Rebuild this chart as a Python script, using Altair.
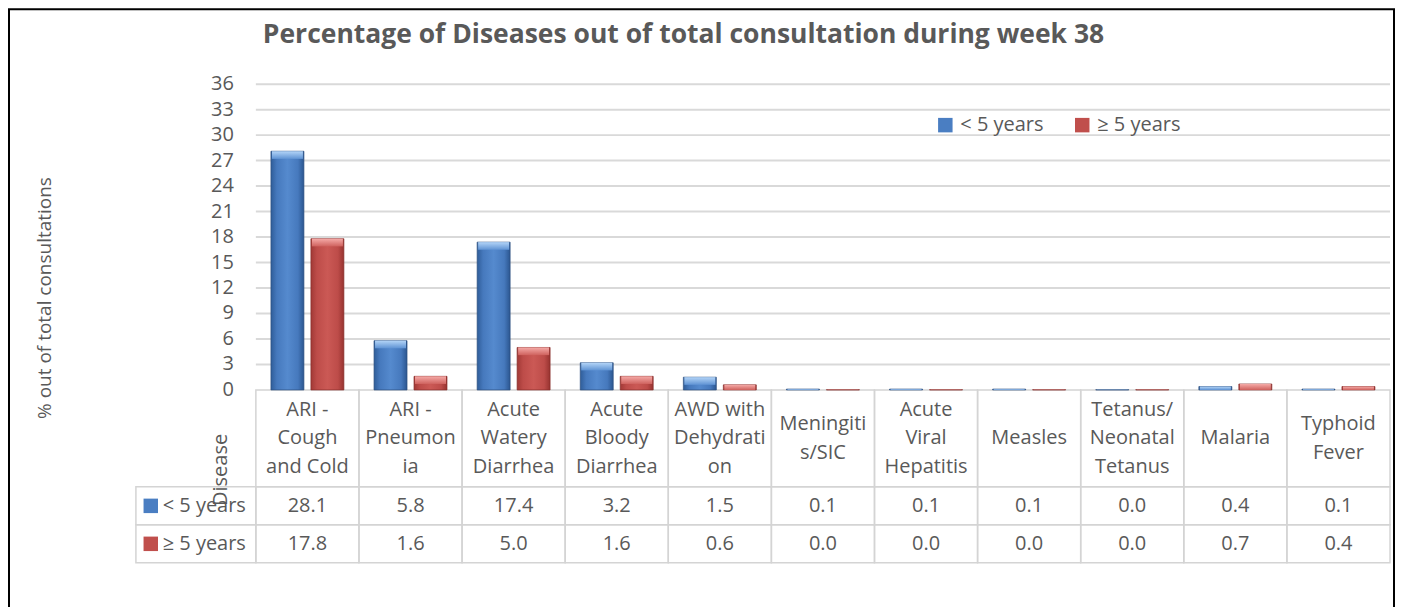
import altair as alt
import pandas as pd

# ---------------- data ----------------
categories = [
    "ARI - Cough and Cold", "ARI - Pneumonia", "Acute Watery Diarrhea",
    "Acute Bloody Diarrhea", "AWD with Dehydration", "Meningitis/SIC",
    "Acute Viral Hepatitis", "Measles", "Tetanus/ Neonatal Tetanus",
    "Malaria", "Typhoid Fever",
]
header_labels = [
    "ARI -\nCough\nand Cold", "ARI -\nPneumon\nia", "Acute\nWatery\nDiarrhea",
    "Acute\nBloody\nDiarrhea", "AWD with\nDehydrati\non", "Meningiti\ns/SIC",
    "Acute\nViral\nHepatitis", "Measles", "Tetanus/\nNeonatal\nTetanus",
    "Malaria", "Typhoid\nFever",
]
under5 = [28.1, 5.8, 17.4, 3.2, 1.5, 0.1, 0.1, 0.1, 0.03, 0.4, 0.1]
over5 = [17.8, 1.6, 5.0, 1.6, 0.6, 0.03, 0.03, 0.03, 0.03, 0.7, 0.4]
series = ["< 5 years", "≥ 5 years"]
y_ticks = [0, 3, 6, 9, 12, 15, 18, 21, 24, 27, 30, 33, 36]

TITLE = "Percentage of Diseases out of total consultation during week 38"
Y_TITLE = "% out of total consultations"
ROW_TITLE = "Disease"

# ---------------- geometry / style ----------------
FONT = "Open Sans"
FS = 20
TXT = "#595959"
GRID = "#d9d9d9"
PALETTE = {"< 5 years": "#4a7ec2", "≥ 5 years": "#c04f4c"}
COL_PX = 104
LEFT_PX = 121
PX_PER_UNIT = 8.5
HDR_PX = 97
ROW_PX = 38
LINE_PX = 28.5
Y_MAX = 36
n = len(categories)
W = LEFT_PX + n * COL_PX
TABLE_PX = HDR_PX + 2 * ROW_PX
H = int(round(Y_MAX * PX_PER_UNIT + TABLE_PX))
XMIN = -LEFT_PX / COL_PX
YMIN = -TABLE_PX / PX_PER_UNIT


def u(px):
    return px / PX_PER_UNIT


hdr_b = -u(HDR_PX)
r1_b = -u(HDR_PX + ROW_PX)
r2_b = -u(TABLE_PX)
row_bounds = [(hdr_b, r1_b), (r1_b, r2_b)]

xs = alt.Scale(domain=[XMIN, n], nice=False, zero=False)
ys = alt.Scale(domain=[YMIN, Y_MAX], nice=False, zero=False)

# ---------------- tables built from arrays ----------------
bar_rows = []
for i, c in enumerate(categories):
    for s, vals in zip(series, [under5, over5]):
        v = vals[i]
        bar_rows.append(dict(cat=c, pos=i + 0.5, series=s, value=v,
                             cap=max(v - 0.9, 0.0)))
bars_df = pd.DataFrame(bar_rows)

cell_rows = []
for i in range(n):
    cell_rows.append(dict(x0=i, x1=i + 1, y0=0.0, y1=hdr_b))
    for (a, b) in row_bounds:
        cell_rows.append(dict(x0=i, x1=i + 1, y0=a, y1=b))
for (a, b) in row_bounds:
    cell_rows.append(dict(x0=XMIN, x1=0, y0=a, y1=b))
cells_df = pd.DataFrame(cell_rows)

hdr_rows = []
for i, lab in enumerate(header_labels):
    lines = lab.split("\n")
    m = len(lines)
    for k, line in enumerate(lines):
        hdr_rows.append(dict(pos=i + 0.5,
                             yc=hdr_b / 2 + u(((m - 1) / 2 - k) * LINE_PX),
                             label=line))
hdr_df = pd.DataFrame(hdr_rows)

val_rows = []
for r, (s, vals) in enumerate(zip(series, [under5, over5])):
    a, b = row_bounds[r]
    for i, v in enumerate(vals):
        val_rows.append(dict(pos=i + 0.5, yc=(a + b) / 2, text=f"{v:.1f}"))
vals_df = pd.DataFrame(val_rows)

key_df = pd.DataFrame(dict(series=series,
                           xk=[XMIN + 15 / COL_PX] * 2,
                           xt=[XMIN + 27 / COL_PX] * 2,
                           yc=[(a + b) / 2 for a, b in row_bounds]))
grid_df = pd.DataFrame(dict(t=y_ticks))
one_df = pd.DataFrame(dict(k=[0]))

# ---------------- layers ----------------
grid = alt.Chart(grid_df).transform_filter(alt.datum.t > 0).mark_rule(
    color=GRID, strokeWidth=2
).encode(
    x=alt.XDatum(0, scale=xs, axis=None),
    x2=alt.X2Datum(n),
    y=alt.Y("t:Q", scale=ys, axis=None),
)

ylabels = alt.Chart(grid_df).mark_text(
    font=FONT, fontSize=FS, color=TXT, align="right", baseline="middle",
    dx=-22
).encode(
    x=alt.XDatum(0, scale=xs, axis=None),
    y=alt.Y("t:Q", scale=ys, axis=None),
    text="t:Q",
)

ytitle = alt.Chart(one_df).mark_text(
    font=FONT, fontSize=19, color=TXT, angle=270, align="center",
    baseline="middle"
).encode(
    x=alt.value(45 - 131), y=alt.value(298 - 84), text=alt.value(Y_TITLE),
)

title = alt.Chart(one_df).mark_text(
    font=FONT, fontSize=26.5, fontWeight="bold", color=TXT, align="center",
    baseline="alphabetic"
).encode(
    x=alt.value(684 - 131), y=alt.value(43 - 84), text=alt.value(TITLE),
)

cells = alt.Chart(cells_df).mark_rect(
    fillOpacity=0, stroke="#d4d4d4", strokeWidth=1.5
).encode(
    x=alt.X("x0:Q", scale=xs, axis=None), x2="x1:Q",
    y=alt.Y("y0:Q", scale=ys, axis=None), y2="y1:Q",
)


def grad_h(stops):
    return alt.LinearGradient(
        gradient="linear", x1=0, x2=1, y1=0, y2=0,
        stops=[alt.GradientStop(offset=o, color=c) for o, c in stops])


def grad_v(stops):
    return alt.LinearGradient(
        gradient="linear", x1=0, x2=0, y1=0, y2=1,
        stops=[alt.GradientStop(offset=o, color=c) for o, c in stops])


styles = {
    "< 5 years": dict(
        off=-20,
        body=[(0, "#2f5d99"), (0.18, "#4679bd"), (0.5, "#558ace"),
              (0.82, "#4679bd"), (1, "#2b5690")],
        cap=[(0, "#b3d4f7"), (1, "#5f93d4")],
        stroke="#2c4f7e"),
    "≥ 5 years": dict(
        off=20,
        body=[(0, "#a13936"), (0.18, "#bd4c49"), (0.5, "#cb5955"),
              (0.82, "#bd4c49"), (1, "#973330")],
        cap=[(0, "#f5aaa7"), (1, "#cf625e")],
        stroke="#862d2a"),
}

bar_layers = []
for s in series:
    st = styles[s]
    base = alt.Chart(bars_df).transform_filter(alt.datum.series == s)
    body = base.mark_bar(width=33, xOffset=st["off"], fill=grad_h(st["body"]),
                         stroke=st["stroke"], strokeWidth=0.7).encode(
        x=alt.X("pos:Q", scale=xs, axis=None),
        y=alt.Y("value:Q", scale=ys, axis=None),
        y2=alt.Y2Datum(0),
    )
    cap = base.mark_bar(width=31, xOffset=st["off"], fill=grad_v(st["cap"]),
                        strokeWidth=0).encode(
        x=alt.X("pos:Q", scale=xs, axis=None),
        y=alt.Y("value:Q", scale=ys, axis=None),
        y2="cap:Q",
    )
    bar_layers += [body, cap]

hdr_text = alt.Chart(hdr_df).mark_text(
    font=FONT, fontSize=FS, color=TXT, align="center", baseline="middle"
).encode(
    x=alt.X("pos:Q", scale=xs, axis=None),
    y=alt.Y("yc:Q", scale=ys, axis=None),
    text="label:N",
)

val_text = alt.Chart(vals_df).mark_text(
    font=FONT, fontSize=FS, color=TXT, align="center", baseline="middle"
).encode(
    x=alt.X("pos:Q", scale=xs, axis=None),
    y=alt.Y("yc:Q", scale=ys, axis=None),
    text="text:N",
)

key_layers = []
for s in series:
    key_layers.append(
        alt.Chart(key_df).transform_filter(alt.datum.series == s).mark_square(
            size=210, opacity=1, color=PALETTE[s]
        ).encode(
            x=alt.X("xk:Q", scale=xs, axis=None),
            y=alt.Y("yc:Q", scale=ys, axis=None),
        )
    )
key_txt = alt.Chart(key_df).mark_text(
    font=FONT, fontSize=FS, color=TXT, align="left", baseline="middle"
).encode(
    x=alt.X("xt:Q", scale=xs, axis=None),
    y=alt.Y("yc:Q", scale=ys, axis=None),
    text="series:N",
)

row_title = alt.Chart(one_df).mark_text(
    font=FONT, fontSize=FS, color=TXT, angle=270, align="center",
    baseline="middle"
).encode(
    x=alt.XDatum(-35 / COL_PX, scale=xs, axis=None),
    y=alt.YDatum(-u(80), scale=ys, axis=None),
    text=alt.value(ROW_TITLE),
)

legend_layer = alt.Chart(bars_df).mark_square(opacity=0, size=0).encode(
    x=alt.X("pos:Q", scale=xs, axis=None),
    y=alt.Y("value:Q", scale=ys, axis=None),
    color=alt.Color(
        "series:N",
        scale=alt.Scale(domain=series, range=[PALETTE[s] for s in series]),
        legend=alt.Legend(
            orient="none", legendX=805, legendY=31, direction="horizontal",
            title=None, symbolType="square", symbolSize=210, symbolOpacity=1,
            symbolStrokeWidth=0, labelFont=FONT, labelFontSize=FS,
            labelColor=TXT, columnPadding=28, labelOffset=5, padding=0),
    ),
)

border = alt.Chart(one_df).mark_rect(
    fillOpacity=0, stroke="black", strokeWidth=2
).encode(
    x=alt.value(-122), x2=alt.value(W - 1),
    y=alt.value(-75), y2=alt.value(H + 80),
)

chart = alt.layer(
    grid, cells, *bar_layers, ylabels, ytitle, title, hdr_text, val_text,
    *key_layers, key_txt, row_title, legend_layer, border,
).properties(
    width=W, height=H,
    padding={"left": 123, "top": 76, "right": 0, "bottom": 44},
    autosize=alt.AutoSizeParams(type="none"),
).configure_view(stroke=None)

chart.save("out.html", embed_options={"renderer": "svg", "actions": False})
